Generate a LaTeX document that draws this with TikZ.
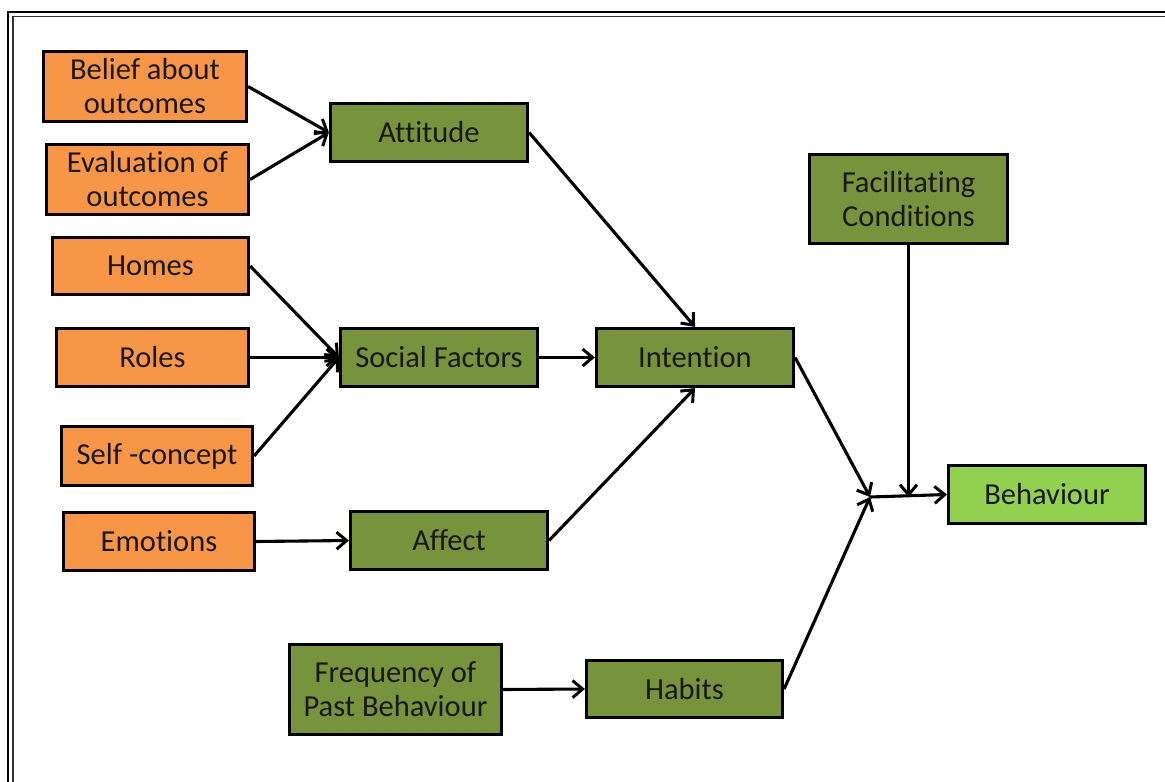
\documentclass[tikz,border=0pt]{standalone}
\usepackage{fontspec}
\setmainfont{Carlito}[Ligatures=NoCommon]
\usetikzlibrary{arrows.meta}
\definecolor{inorange}{HTML}{F79646}
\definecolor{midgreen}{HTML}{77933C}
\definecolor{litegreen}{HTML}{92D050}
\begin{document}
\begin{tikzpicture}[x=1pt,y=-1pt,
  base/.style={draw=black,line width=3.2pt,align=center,inner sep=0pt,
    font=\fontsize{30.5}{34}\selectfont,text=black!90},
  inbox/.style={base,fill=inorange},
  gbox/.style={base,fill=midgreen},
  lbox/.style={base,fill=litegreen},
  link/.style={draw=black,line width=3.1pt,-{Straight Barb[length=10pt,width=17pt,line width=3pt]}}]
\useasboundingbox (0,0) rectangle (1165,782);
\fill[white] (0,0) rectangle (1165,782);
% double frame around the figure
\begin{scope}
\clip (0,0) rectangle (1165,782);
\draw[line width=1.8pt] (8,12) rectangle (1200,820);
\draw[line width=1.6pt,black!80] (13,16.5) rectangle (1200,820);
\end{scope}
% input factors
\node[inbox,minimum width=203pt,minimum height=70pt] (belief) at (145,86.5) {Belief about\\outcomes};
\node[inbox,minimum width=202pt,minimum height=70pt] (eval) at (147.5,179.5) {Evaluation of\\outcomes};
\node[inbox,minimum width=196pt,minimum height=57pt] (homes) at (150.5,266) {Homes};
\node[inbox,minimum width=192pt,minimum height=58pt] (roles) at (152.5,357.5) {Roles};
\node[inbox,minimum width=191pt,minimum height=59pt] (self) at (157,456) {Self -concept};
\node[inbox,minimum width=191pt,minimum height=58pt] (emotions) at (159,541.5) {Emotions};
% intermediate constructs
\node[gbox,minimum width=197pt,minimum height=58pt] (attitude) at (429,132.5) {Attitude};
\node[gbox,minimum width=197pt,minimum height=58pt] (social) at (439,357.5) {Social Factors};
\node[gbox,minimum width=197pt,minimum height=58pt] (intention) at (695,357.5) {Intention};
\node[gbox,minimum width=197pt,minimum height=58pt] (affect) at (449,540.5) {Affect};
\node[gbox,minimum width=198pt,minimum height=89pt] (facil) at (908.5,199) {Facilitating\\Conditions};
\node[gbox,minimum width=212pt,minimum height=90pt] (freq) at (395.5,689.5) {Frequency of\\Past Behaviour};
\node[gbox,minimum width=196pt,minimum height=57pt] (habits) at (684.5,689) {Habits};
\node[lbox,minimum width=197pt,minimum height=58pt] (behaviour) at (1047,494.5) {Behaviour};
% meeting point before behaviour
\coordinate (J) at (870,497);
% connectors
\draw[link] (belief.east) -- (attitude.west);
\draw[link] (eval.east) -- (attitude.west);
\draw[link] (homes.east) -- (social.west);
\draw[link] (roles.east) -- (social.west);
\draw[link] (self.east) -- (social.west);
\draw[link] (emotions.east) -- (affect.west);
\draw[link] (social.east) -- (intention.west);
\draw[link] (attitude.east) -- (intention.north);
\draw[link] (affect.east) -- (intention.south);
\draw[link] (freq.east) -- (habits.west);
\draw[link] (intention.east) -- (J);
\draw[link] (habits.east) -- (J);
\draw[link] (J) -- (behaviour.west);
\draw[link] (facil.south) -- (facil.south |- J);
\end{tikzpicture}
\end{document}
